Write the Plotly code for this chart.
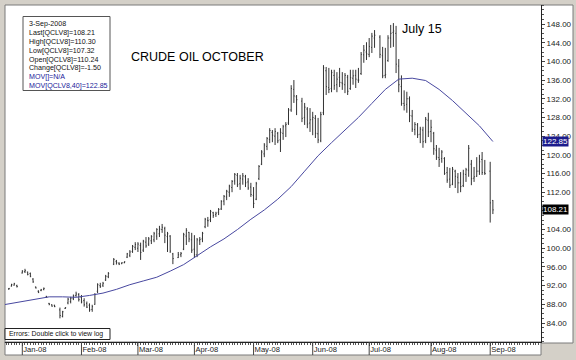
import numpy as np
import plotly.graph_objects as go

# ---------------- data ----------------
months = ["2007-12", "2008-01", "2008-02", "2008-03", "2008-04",
          "2008-05", "2008-06", "2008-07", "2008-08", "2008-09"]
month_days = [
    [26, 27, 28, 31],
    [2, 3, 4, 7, 8, 9, 10, 11, 14, 15, 16, 17, 18, 22, 23, 24, 25, 28, 29, 30, 31],
    [1, 4, 5, 6, 7, 8, 11, 12, 13, 14, 15, 19, 20, 21, 22, 25, 26, 27, 28, 29],
    [3, 4, 5, 6, 7, 10, 11, 12, 13, 14, 17, 18, 19, 20, 24, 25, 26, 27, 28, 31],
    [1, 2, 3, 4, 7, 8, 9, 10, 11, 14, 15, 16, 17, 18, 21, 22, 23, 24, 25, 28, 29, 30],
    [1, 2, 5, 6, 7, 8, 9, 12, 13, 14, 15, 16, 19, 20, 21, 22, 23, 27, 28, 29, 30],
    [2, 3, 4, 5, 6, 9, 10, 11, 12, 13, 16, 17, 18, 19, 20, 23, 24, 25, 26, 27, 30],
    [1, 2, 3, 7, 8, 9, 10, 11, 14, 15, 16, 17, 18, 21, 22, 23, 24, 25, 28, 29, 30, 31],
    [1, 4, 5, 6, 7, 8, 11, 12, 13, 14, 15, 18, 19, 20, 21, 22, 25, 26, 27, 28, 29],
    [2, 3],
]

opens = [
    91.3, 91.9, 92.1, 92.0,
    94.7, 95.0, 94.9, 94.6, 93.4, 91.7, 90.8, 91.0, 91.2, 89.7, 88.2, 87.9, 87.8, 86.8, 85.4, 87.1, 88.3, 88.6, 89.2, 89.9, 90.1,
    89.5, 88.8, 88.2, 87.8, 86.9, 88.0, 90.8, 92.0, 92.1, 93.2, 93.9, 96.6, 97.2, 96.8, 96.7, 96.9, 98.1, 98.5, 99.3, 100.2,
    100.0, 100.6, 99.6, 101.3, 100.9, 101.6, 101.8, 102.6, 103.1, 104.0, 104.2, 102.5, 102.6, 98.8, 98.0, 98.6, 99.8, 102.6, 103.4, 101.8,
    99.8, 98.6, 101.6, 102.0, 104.6, 106.0, 106.1, 107.6, 107.2, 107.7, 108.4, 110.1, 111.0, 112.0, 113.0, 114.4, 115.6, 113.8, 114.8, 115.3, 114.2, 113.1,
    111.3, 110.5, 114.9, 118.0, 120.2, 121.8, 123.3, 124.8, 124.0, 124.6, 123.2, 124.6, 126.2, 126.8, 129.6, 134.0, 132.4, 131.5, 128.0, 129.8, 126.8,
    127.6, 127.8, 124.5, 123.0, 129.0, 138.0, 134.4, 134.2, 137.0, 135.0, 136.6, 135.4, 135.0, 136.6, 134.2, 136.4, 137.0, 136.0, 137.4, 141.4, 142.0,
    141.5, 143.0, 145.0, 145.2, 141.2, 137.0, 140.2, 145.0, 146.2, 146.0, 139.0, 134.6, 131.0, 130.8, 132.0, 128.3, 125.4, 126.4, 124.4, 125.3, 123.0, 127.4,
    125.0, 124.6, 121.0, 119.4, 119.2, 119.2, 116.2, 114.8, 113.7, 116.5, 115.2, 114.0, 113.4, 115.8, 116.7, 118.0, 115.0, 115.4, 116.5, 119.0, 116.2,
    116.5, 110.24,
]
highs = [
    91.5, 92.4, 92.6, 92.2,
    95.3, 95.6, 95.0, 94.8, 93.6, 91.8, 91.0, 91.3, 91.6, 89.8, 88.3, 88.0, 87.9, 87.3, 86.6, 87.4, 89.4, 89.6, 90.1, 90.7, 90.4,
    90.0, 89.3, 88.6, 88.2, 87.9, 90.4, 92.5, 92.6, 92.8, 94.3, 94.9, 97.9, 97.5, 97.0, 97.0, 97.2, 99.0, 99.6, 100.7, 101.3,
    101.3, 101.2, 101.8, 102.4, 102.4, 102.8, 103.5, 104.3, 104.8, 105.2, 104.6, 103.5, 102.8, 99.0, 99.2, 99.2, 103.3, 104.3, 103.5, 103.3,
    102.8, 102.2, 102.4, 103.5, 106.5, 106.7, 108.2, 107.8, 107.8, 108.6, 110.3, 111.4, 112.5, 113.6, 114.6, 116.1, 116.1, 115.7, 116.1, 115.7, 115.0, 114.0,
    113.1, 114.2, 117.8, 121.0, 122.5, 123.8, 125.7, 125.3, 125.7, 124.9, 125.7, 126.4, 127.0, 130.0, 134.9, 136.0, 132.8, 132.2, 131.1, 130.2, 130.0,
    129.2, 128.5, 127.9, 129.2, 139.2, 138.8, 138.6, 138.2, 138.2, 137.7, 138.6, 137.7, 137.5, 137.1, 138.2, 138.2, 138.2, 138.6, 142.0, 143.5, 144.1,
    145.0, 146.1, 146.7, 145.6, 143.1, 142.9, 145.6, 147.8, 148.2, 147.6, 140.5, 137.0, 133.8, 133.5, 132.5, 129.6, 127.0, 126.8, 126.0, 126.0, 128.1, 129.0,
    127.5, 124.9, 122.1, 121.5, 121.0, 119.5, 117.4, 117.2, 117.4, 116.8, 116.1, 116.3, 116.8, 117.2, 122.1, 118.9, 117.4, 119.5, 120.0, 120.6, 118.9,
    118.5, 110.30,
]
lows = [
    91.1, 91.8, 92.0, 91.6,
    94.6, 94.7, 94.2, 93.8, 92.6, 91.4, 90.4, 90.8, 91.0, 89.4, 87.8, 87.5, 87.4, 85.0, 85.2, 87.0, 88.0, 88.2, 88.9, 89.6, 88.6,
    88.2, 87.5, 87.2, 86.4, 86.4, 87.9, 90.4, 91.5, 91.7, 93.0, 93.6, 96.4, 96.5, 96.4, 96.6, 96.8, 97.9, 98.1, 99.0, 99.6,
    99.2, 97.5, 99.2, 100.1, 100.5, 100.9, 101.3, 101.8, 102.4, 103.3, 101.1, 99.2, 99.0, 96.6, 97.9, 98.1, 99.6, 100.7, 101.3, 99.0,
    97.9, 98.1, 100.7, 101.3, 104.3, 104.6, 105.6, 106.5, 106.7, 107.1, 108.2, 109.2, 110.3, 111.0, 112.0, 113.6, 113.1, 112.5, 113.6, 113.1, 112.5, 111.0,
    108.6, 110.3, 114.6, 117.8, 119.5, 121.0, 122.5, 122.7, 122.1, 122.5, 120.6, 123.2, 123.8, 126.4, 129.2, 131.1, 128.5, 127.0, 126.4, 125.7, 124.9,
    124.2, 123.6, 122.5, 122.7, 128.5, 132.8, 133.2, 133.4, 133.9, 133.4, 134.5, 133.9, 133.2, 132.8, 133.9, 135.0, 134.3, 135.4, 137.1, 139.7, 140.3,
    140.9, 141.8, 142.9, 140.7, 136.4, 136.4, 139.9, 142.9, 143.1, 137.5, 133.4, 130.5, 129.5, 129.0, 127.0, 124.9, 124.2, 123.6, 122.5, 121.5, 122.5, 123.8,
    122.7, 120.0, 118.9, 117.4, 118.3, 115.7, 114.0, 112.9, 113.5, 112.9, 111.8, 112.0, 113.1, 114.2, 115.3, 113.5, 114.2, 115.3, 115.7, 115.7, 115.7,
    105.5, 107.32,
]
closes = [
    91.4, 92.2, 92.4, 91.8,
    95.1, 95.2, 94.4, 94.0, 92.8, 91.5, 90.6, 91.1, 91.4, 89.5, 88.0, 87.6, 87.5, 85.6, 86.4, 87.3, 89.1, 89.3, 89.8, 90.2, 89.0,
    88.5, 87.9, 87.4, 86.8, 87.5, 90.1, 92.2, 91.8, 92.5, 94.0, 94.6, 97.6, 96.9, 96.6, 96.9, 97.1, 98.8, 99.2, 100.4, 100.8,
    100.9, 99.1, 101.5, 100.5, 102.0, 102.5, 103.1, 104.0, 104.1, 104.5, 102.8, 103.1, 99.4, 97.8, 98.6, 98.9, 102.9, 103.8, 102.0, 99.6,
    98.6, 101.8, 101.9, 103.2, 106.2, 105.9, 107.9, 107.0, 107.5, 108.3, 110.0, 111.1, 112.2, 113.3, 114.3, 115.8, 113.6, 115.0, 115.5, 114.0, 112.9, 111.5,
    109.6, 113.8, 117.5, 120.6, 122.1, 123.5, 125.2, 124.2, 125.0, 123.0, 124.8, 126.0, 126.5, 129.6, 134.2, 132.6, 131.8, 127.8, 130.2, 126.6, 127.5,
    128.0, 124.6, 123.2, 128.6, 138.6, 134.6, 134.0, 137.6, 134.8, 136.2, 135.5, 135.2, 137.0, 133.6, 136.5, 136.9, 136.2, 136.0, 141.5, 142.4, 141.6,
    143.2, 145.4, 145.6, 141.5, 136.9, 137.2, 145.0, 146.0, 146.5, 139.4, 135.0, 131.0, 130.6, 132.0, 128.4, 125.5, 126.5, 124.3, 125.5, 122.8, 127.6, 124.9,
    125.9, 121.3, 119.5, 119.0, 120.6, 116.0, 114.6, 113.5, 116.9, 115.4, 114.0, 113.2, 115.9, 116.8, 121.4, 114.9, 115.3, 116.5, 118.5, 116.2, 116.0,
    109.71, 108.21,
]

# 40-day moving average
ma_dates = ["2007-12-24", "2008-01-02", "2008-01-09", "2008-01-16", "2008-01-23", "2008-01-30",
            "2008-02-06", "2008-02-13", "2008-02-20", "2008-02-27", "2008-03-05", "2008-03-12",
            "2008-03-19", "2008-03-26", "2008-04-02", "2008-04-09", "2008-04-16", "2008-04-23",
            "2008-04-30", "2008-05-07", "2008-05-14", "2008-05-21", "2008-05-28", "2008-06-04",
            "2008-06-11", "2008-06-18", "2008-06-25", "2008-07-02", "2008-07-09", "2008-07-16",
            "2008-07-23", "2008-07-30", "2008-08-06", "2008-08-13", "2008-08-20", "2008-08-27",
            "2008-09-03"]
ma_vals = [87.9, 88.6, 89.1, 89.6, 89.6, 89.5,
           89.9, 90.4, 91.2, 92.2, 93.0, 93.8,
           95.1, 96.5, 98.4, 100.3, 102.0, 104.0,
           106.2, 108.2, 110.5, 113.2, 116.5, 119.8,
           122.6, 125.3, 128.0, 131.0, 134.0, 136.2,
           136.4, 135.9, 134.0, 131.6, 128.9, 126.2,
           122.85]

tick_dates = ["2008-01-02", "2008-02-01", "2008-03-03", "2008-04-01", "2008-05-01",
              "2008-06-02", "2008-07-01", "2008-08-01", "2008-09-02"]
tick_labels = ["Jan-08", "Feb-08", "Mar-08", "Apr-08", "May-08",
               "Jun-08", "Jul-08", "Aug-08", "Sep-08"]

price_ticks = [84, 88, 92, 96, 100, 104, 108, 112, 116, 120, 124, 128, 132, 136, 140, 144, 148]
# the 108.00 label is hidden behind the last-price marker in the original
price_labels = ["" if v == 108 else f"{v:.2f}" for v in price_ticks]

info_lines = ["3-Sep-2008", "Last[QCLV8]=108.21", "High[QCLV8]=110.30", "Low[QCLV8]=107.32",
              "Open[QCLV8]=110.24", "Change[QCLV8]=-1.50", "MOV[]=N/A", "MOV[QCLV8,40]=122.85"]
info_colors = ["#111111"] * 6 + ["#1a1a9a", "#1a1a9a"]

last_price = 108.21
ma_last = 122.85

# ---------------- geometry ----------------
BASE = np.datetime64("2008-01-02")
dates = [f"{m}-{d:02d}" for m, ds in zip(months, month_days) for d in ds]
xs = np.busday_count(BASE, np.array(dates, dtype="datetime64[D]"))
ma_x = np.busday_count(BASE, np.array(ma_dates, dtype="datetime64[D]"))
tick_x = np.busday_count(BASE, np.array(tick_dates, dtype="datetime64[D]"))

W, H = 576, 360
PL, PR, PT, PB = 5, 541, 5, 342
X0PX, PXD = 22.3, 2.689          # pixel of index 0 and pixels per weekday
Y148, YPX = 24.0, 64.0 / 299.0   # pixel of 148 and price per pixel

xr = [(PL - X0PX) / PXD, (PR - X0PX) / PXD]
yr = [148 - (PB - Y148) * YPX, 148 + (Y148 - PT) * YPX]


def fx(px):
    return (px - PL) / (PR - PL)


def fy(py):
    return (PB - py) / (PB - PT)


FONT = "Liberation Sans, Arial, sans-serif"
BAR = "#333333"

fig = go.Figure()
fig.add_trace(go.Ohlc(
    x=xs, open=opens, high=highs, low=lows, close=closes,
    increasing=dict(line=dict(color=BAR, width=1)),
    decreasing=dict(line=dict(color=BAR, width=1)),
    tickwidth=0.3, showlegend=False, hoverinfo="skip"))
fig.add_trace(go.Scatter(
    x=ma_x, y=ma_vals, mode="lines",
    line=dict(color="#4848a0", width=1), showlegend=False, hoverinfo="skip"))

shapes = [
    # white chart panel incl. price scale
    dict(type="rect", xref="paper", yref="paper", x0=fx(5), x1=fx(573), y0=fy(343), y1=fy(5),
         fillcolor="white", line=dict(color="#7a7a7a", width=1), layer="below"),
    # date strip
    dict(type="rect", xref="paper", yref="paper", x0=fx(5), x1=fx(541), y0=fy(355), y1=fy(342),
         fillcolor="white", line=dict(color="#7a7a7a", width=1), layer="below"),
    # info box
    dict(type="rect", xref="paper", yref="paper", x0=fx(23), x1=fx(110), y0=fy(90.5), y1=fy(16.5),
         fillcolor="white", line=dict(color="#555555", width=1), layer="below"),
    # errors box
    dict(type="rect", xref="paper", yref="paper", x0=fx(5), x1=fx(110), y0=fy(339.5), y1=fy(328.5),
         fillcolor="white", line=dict(color="#222222", width=1), layer="above"),
]
for tx in tick_x:
    shapes.append(dict(type="line", xref="x", yref="paper", x0=tx, x1=tx, y0=fy(342), y1=fy(355),
                       line=dict(color="#444444", width=1)))

annotations = []
for i, (t, c) in enumerate(zip(info_lines, info_colors)):
    annotations.append(dict(xref="paper", yref="paper", x=fx(27), y=fy(24.2 + i * 8.85),
                            xanchor="left", yanchor="middle", text=t, showarrow=False,
                            font=dict(family=FONT, size=7.1, color=c)))
annotations += [
    dict(xref="paper", yref="paper", x=fx(129), y=fy(56.5), xanchor="left", yanchor="middle",
         text="CRUDE OIL OCTOBER", showarrow=False, font=dict(family=FONT, size=12.5, color="#000")),
    dict(xref="paper", yref="paper", x=fx(400), y=fy(29), xanchor="left", yanchor="middle",
         text="July 15", showarrow=False, font=dict(family=FONT, size=12.5, color="#000")),
    dict(xref="paper", yref="paper", x=fx(7), y=fy(334), xanchor="left", yanchor="middle",
         text="Errors: Double click to view log", showarrow=False,
         font=dict(family=FONT, size=6.9, color="#111")),
    dict(xref="paper", yref="y", x=fx(542), y=ma_last, xanchor="left", yanchor="middle",
         text=f"{ma_last:.2f}", showarrow=False, bgcolor="#1c1c8c", borderpad=0,
         font=dict(family=FONT, size=8, color="white")),
    dict(xref="paper", yref="y", x=fx(542), y=last_price, xanchor="left", yanchor="middle",
         text=f"{last_price:.2f}", showarrow=False, bgcolor="#000000", borderpad=0,
         font=dict(family=FONT, size=8, color="white")),
]

fig.update_layout(
    width=W, height=H, autosize=False,
    margin=dict(l=PL, r=W - PR, t=PT, b=H - PB, pad=0),
    paper_bgcolor="#d4d0c8", plot_bgcolor="white",
    shapes=shapes, annotations=annotations, showlegend=False,
    xaxis=dict(range=xr, showgrid=False, zeroline=False, showline=True, linecolor="#222", linewidth=1,
               tickmode="array", tickvals=tick_x, ticktext=tick_labels,
               ticks="outside", ticklen=3, tickcolor="#444", ticklabelposition="outside right",
               tickfont=dict(family=FONT, size=7.6, color="#222"),
               minor=dict(ticks="outside", ticklen=2, dtick=1, tick0=0, tickcolor="#555", showgrid=False),
               rangeslider=dict(visible=False), automargin=False, fixedrange=True),
    yaxis=dict(range=yr, side="right", showgrid=False, zeroline=False, showline=True,
               linecolor="#222", linewidth=1, tickmode="array", tickvals=price_ticks,
               ticktext=price_labels,
               ticks="outside", ticklen=3, tickcolor="#444",
               tickfont=dict(family=FONT, size=8, color="#222"),
               minor=dict(ticks="outside", ticklen=2, dtick=1, tick0=0, tickcolor="#555", showgrid=False),
               automargin=False, fixedrange=True),
)

fig.write_html("out.html")
